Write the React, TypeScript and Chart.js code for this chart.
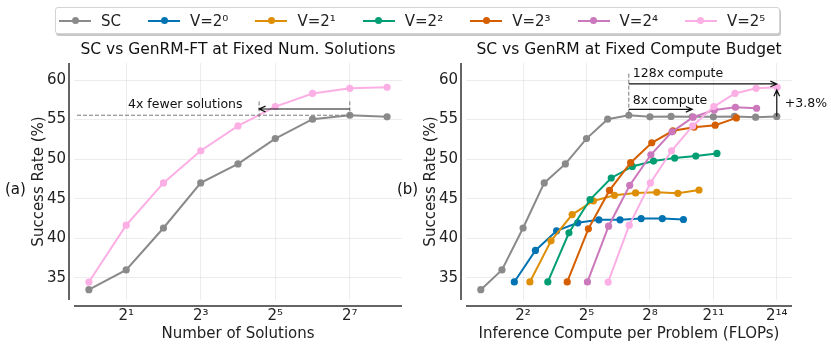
import React, { useEffect, useRef } from 'react';
import { Chart, registerables } from 'chart.js';

Chart.register(...registerables);

// ---------------- data ----------------
const numSolutions = [1, 2, 4, 8, 16, 32, 64, 128, 256];
const scCompute = [1, 2, 4, 8, 16, 32, 64, 128, 256, 512, 1024, 2048, 4096, 8192, 16384];
const scRate = [33.5, 36.0, 41.3, 47.0, 49.4, 52.6, 55.05, 55.55, 55.35, 55.4, 55.35, 55.35, 55.4, 55.3, 55.4];

const v1Compute = [3, 6, 12, 24, 48, 96, 192, 384, 768];
const v1Rate = [34.48, 38.46, 40.94, 41.95, 42.33, 42.33, 42.49, 42.49, 42.37];
const v2Compute = [5, 10, 20, 40, 80, 160, 320, 640, 1280];
const v2Rate = [34.48, 39.68, 43.0, 44.72, 45.43, 45.73, 45.81, 45.68, 46.1];
const v4Compute = [9, 18, 36, 72, 144, 288, 576, 1152, 2304];
const v4Rate = [34.48, 40.69, 44.9, 47.62, 49.08, 49.76, 50.13, 50.39, 50.72];
const v8Compute = [17, 34, 68, 136, 272, 544, 1088, 2176, 4352];
const v8Rate = [34.48, 41.19, 46.05, 49.55, 52.07, 53.58, 54.04, 54.29, 55.21];
const v16Compute = [33, 66, 132, 264, 528, 1056, 2112, 4224, 8448];
const v16Rate = [34.48, 41.53, 46.69, 50.55, 53.45, 55.3, 56.22, 56.56, 56.43];
const v32Compute = [65, 130, 260, 520, 1040, 2080, 4160, 8320, 16640];
const v32Rate = [34.47, 41.65, 47.0, 51.06, 54.2, 56.64, 58.3, 58.95, 59.08];

const leftXTicks = [2, 8, 32, 128];
const rightXTicks = [4, 32, 256, 2048, 16384];
const yTicks = [35, 40, 45, 50, 55, 60];

const legendLabels = ['SC', 'V=2⁰', 'V=2¹', 'V=2²', 'V=2³', 'V=2⁴', 'V=2⁵'];
const COLORS = ['#8a8a8a', '#0173b2', '#de8f05', '#029e73', '#d55e00', '#cc78bc', '#fbafe4'];

// annotation anchors (data coords)
const fewerCrossX = 23.7;
const scBestN = 128;
const scBestRate = 55.55;

// ---------------- helpers ----------------
const FONT = "'DejaVu Sans', sans-serif";
const SUP = '⁰¹²³⁴⁵⁶⁷⁸⁹';
const pow2Label = (v: number) =>
  '2' + String(Math.round(Math.log2(v))).split('').map((d) => SUP[+d]).join('');
const toPts = (xs: number[], ys: number[]) => xs.map((x, i) => ({ x, y: ys[i] }));

function ds(label: string, color: string, xs: number[], ys: number[]) {
  return {
    label,
    data: toPts(xs, ys),
    borderColor: color,
    backgroundColor: color,
    borderWidth: 2,
    pointRadius: 3.6,
    pointBorderWidth: 0,
    pointBackgroundColor: color,
    tension: 0,
  };
}

function dashed(ctx: CanvasRenderingContext2D, x1: number, y1: number, x2: number, y2: number) {
  ctx.save();
  ctx.setLineDash([4, 2]);
  ctx.strokeStyle = '#7a7a7a';
  ctx.lineWidth = 1;
  ctx.beginPath();
  ctx.moveTo(x1, y1);
  ctx.lineTo(x2, y2);
  ctx.stroke();
  ctx.restore();
}

function arrow(ctx: CanvasRenderingContext2D, x1: number, y1: number, x2: number, y2: number) {
  ctx.save();
  ctx.strokeStyle = '#111';
  ctx.lineWidth = 1.2;
  ctx.beginPath();
  ctx.moveTo(x1, y1);
  ctx.lineTo(x2, y2);
  const ang = Math.atan2(y2 - y1, x2 - x1);
  const L = 7;
  const w = 0.42;
  ctx.moveTo(x2 - L * Math.cos(ang - w), y2 - L * Math.sin(ang - w));
  ctx.lineTo(x2, y2);
  ctx.lineTo(x2 - L * Math.cos(ang + w), y2 - L * Math.sin(ang + w));
  ctx.stroke();
  ctx.restore();
}

function text(ctx: CanvasRenderingContext2D, s: string, x: number, y: number, align: CanvasTextAlign, size: number) {
  ctx.save();
  ctx.font = `${size}px ${FONT}`;
  ctx.fillStyle = '#111';
  ctx.textAlign = align;
  ctx.textBaseline = 'middle';
  ctx.fillText(s, x, y);
  ctx.restore();
}

function makeOptions(opts: {
  xMin: number; xMax: number; xTicks: number[]; xTitle: string;
  padLeft: number; padRight: number; yWidth: number; yTitlePad: number;
}) {
  return {
    animation: false,
    responsive: false,
    devicePixelRatio: 1,
    layout: { padding: { left: opts.padLeft, right: opts.padRight, top: 63, bottom: 0 } },
    plugins: { legend: { display: false }, tooltip: { enabled: false }, title: { display: false } },
    scales: {
      x: {
        type: 'logarithmic',
        min: opts.xMin,
        max: opts.xMax,
        bounds: 'data',
        grid: { color: 'rgba(0,0,0,0.07)', drawTicks: false, lineWidth: 1 },
        border: { display: false },
        ticks: {
          autoSkip: false,
          maxRotation: 0,
          padding: 7,
          color: '#222',
          font: { family: FONT, size: 15 },
          callback: (v: number) => pow2Label(v),
        },
        afterBuildTicks: (s: any) => { s.ticks = opts.xTicks.map((v) => ({ value: v })); },
        afterFit: (s: any) => { s.height = 46; },
        title: {
          display: true,
          text: opts.xTitle,
          color: '#222',
          font: { family: FONT, size: 15 },
          padding: { top: 0, bottom: 3 },
        },
      },
      y: {
        type: 'linear',
        min: 32.2,
        max: 62.15,
        grid: { color: 'rgba(0,0,0,0.07)', drawTicks: false, lineWidth: 1 },
        border: { display: false },
        ticks: { padding: 8, color: '#222', font: { family: FONT, size: 15 } },
        afterBuildTicks: (s: any) => { s.ticks = yTicks.map((v) => ({ value: v })); },
        afterFit: (s: any) => { s.width = opts.yWidth; },
        title: {
          display: true,
          text: 'Success Rate (%)',
          color: '#222',
          font: { family: FONT, size: 15 },
          padding: { top: opts.yTitlePad, bottom: 0 },
        },
      },
    },
  };
}

function decorPlugin(title: string, draw: (ctx: CanvasRenderingContext2D, px: (v: number) => number, py: (v: number) => number, a: any) => void) {
  return {
    id: 'decor',
    afterDraw(chart: any) {
      const { ctx, chartArea: a } = chart;
      const px = (v: number) => chart.scales.x.getPixelForValue(v);
      const py = (v: number) => chart.scales.y.getPixelForValue(v);
      ctx.save();
      ctx.strokeStyle = '#333';
      ctx.lineWidth = 1.5;
      ctx.beginPath();
      ctx.moveTo(a.left - 5, a.top);
      ctx.lineTo(a.left - 5, a.bottom);
      ctx.moveTo(a.left, a.bottom + 6);
      ctx.lineTo(a.right, a.bottom + 6);
      ctx.stroke();
      ctx.restore();
      text(ctx, title, (a.left + a.right) / 2, 50, 'center', 15.5);
      draw(ctx, px, py, a);
    },
  };
}

export default function App() {
  const leftRef = useRef<HTMLCanvasElement>(null);
  const rightRef = useRef<HTMLCanvasElement>(null);

  useEffect(() => {
    const left = new Chart(leftRef.current!, {
      type: 'line',
      data: {
        datasets: [
          ds(legendLabels[6], COLORS[6], numSolutions, v32Rate),
          ds(legendLabels[0], COLORS[0], numSolutions, scRate.slice(0, numSolutions.length)),
        ],
      },
      options: makeOptions({
        xMin: Math.pow(2, -0.4), xMax: Math.pow(2, 8.4), xTicks: leftXTicks, xTitle: 'Number of Solutions',
        padLeft: 0, padRight: 429, yWidth: 74, yTitlePad: 30,
      }) as any,
      plugins: [
        decorPlugin('SC vs GenRM-FT at Fixed Num. Solutions', (ctx, px, py, a) => {
          dashed(ctx, a.left + 3, py(scBestRate), px(scBestN), py(scBestRate));
          dashed(ctx, px(fewerCrossX), py(57.3), px(fewerCrossX), py(54.95));
          dashed(ctx, px(scBestN), py(57.3), px(scBestN), py(scBestRate));
          arrow(ctx, px(scBestN), py(56.34), px(fewerCrossX), py(56.34));
          text(ctx, '4x fewer solutions', px(6), py(56.84), 'center', 12.5);
          text(ctx, '(a)', 5, 190, 'left', 15);
        }),
      ],
    });

    const right = new Chart(rightRef.current!, {
      type: 'line',
      data: {
        datasets: [
          ds(legendLabels[6], COLORS[6], v32Compute, v32Rate),
          ds(legendLabels[5], COLORS[5], v16Compute, v16Rate),
          ds(legendLabels[4], COLORS[4], v8Compute, v8Rate),
          ds(legendLabels[3], COLORS[3], v4Compute, v4Rate),
          ds(legendLabels[2], COLORS[2], v2Compute, v2Rate),
          ds(legendLabels[1], COLORS[1], v1Compute, v1Rate),
          ds(legendLabels[0], COLORS[0], scCompute, scRate),
        ],
      },
      options: makeOptions({
        xMin: Math.pow(2, -0.7), xMax: Math.pow(2, 14.72), xTicks: rightXTicks,
        xTitle: 'Inference Compute per Problem (FLOPs)',
        padLeft: 400, padRight: 39, yWidth: 66, yTitlePad: 22,
      }) as any,
      plugins: [
        decorPlugin('SC vs GenRM at Fixed Compute Budget', (ctx, px, py) => {
          const last = scCompute[scCompute.length - 1];
          dashed(ctx, px(scBestN), py(60.8), px(scBestN), py(scBestRate));
          arrow(ctx, px(scBestN), py(59.5), px(last), py(59.5));
          text(ctx, '128x compute', px(scBestN) + 4, py(60.85), 'left', 12.5);
          arrow(ctx, px(scBestN), py(56.3), px(1024), py(56.3));
          text(ctx, '8x compute', px(scBestN) + 4, py(57.4), 'left', 12.5);
          arrow(ctx, px(last), py(scRate[scRate.length - 1]), px(last), py(58.75));
          text(ctx, '+3.8%', px(last) + 8, py(57.06), 'left', 12.5);
          text(ctx, '(b)', 397, 190, 'left', 15);
        }),
      ],
    });

    return () => {
      left.destroy();
      right.destroy();
    };
  }, []);

  const canvasStyle: React.CSSProperties = { position: 'absolute', left: 0, top: 0 };

  return (
    <div style={{ position: 'absolute', left: 0, top: 0, width: 831, height: 346, background: '#fff', fontFamily: FONT }}>
      <canvas ref={leftRef} width={831} height={346} style={canvasStyle} />
      <canvas ref={rightRef} width={831} height={346} style={canvasStyle} />
      <div
        style={{
          position: 'absolute', left: 55, top: 7, width: 725, height: 27, boxSizing: 'border-box',
          border: '1px solid #d4d4d4', borderRadius: 3, boxShadow: '1px 2px 0 rgba(0,0,0,0.22)',
          display: 'flex', alignItems: 'center', paddingLeft: 3, background: '#fff',
        }}
      >
        {legendLabels.map((lab, i) => (
          <div key={lab} style={{ display: 'flex', alignItems: 'center', marginRight: 27 }}>
            <div style={{ position: 'relative', width: 32, height: 2, background: COLORS[i] }}>
              <div style={{ position: 'absolute', left: 12.5, top: -2.5, width: 7, height: 7, borderRadius: '50%', background: COLORS[i] }} />
            </div>
            <span style={{ marginLeft: 10, fontSize: 15, color: '#222', lineHeight: '18px' }}>{lab}</span>
          </div>
        ))}
      </div>
    </div>
  );
}
